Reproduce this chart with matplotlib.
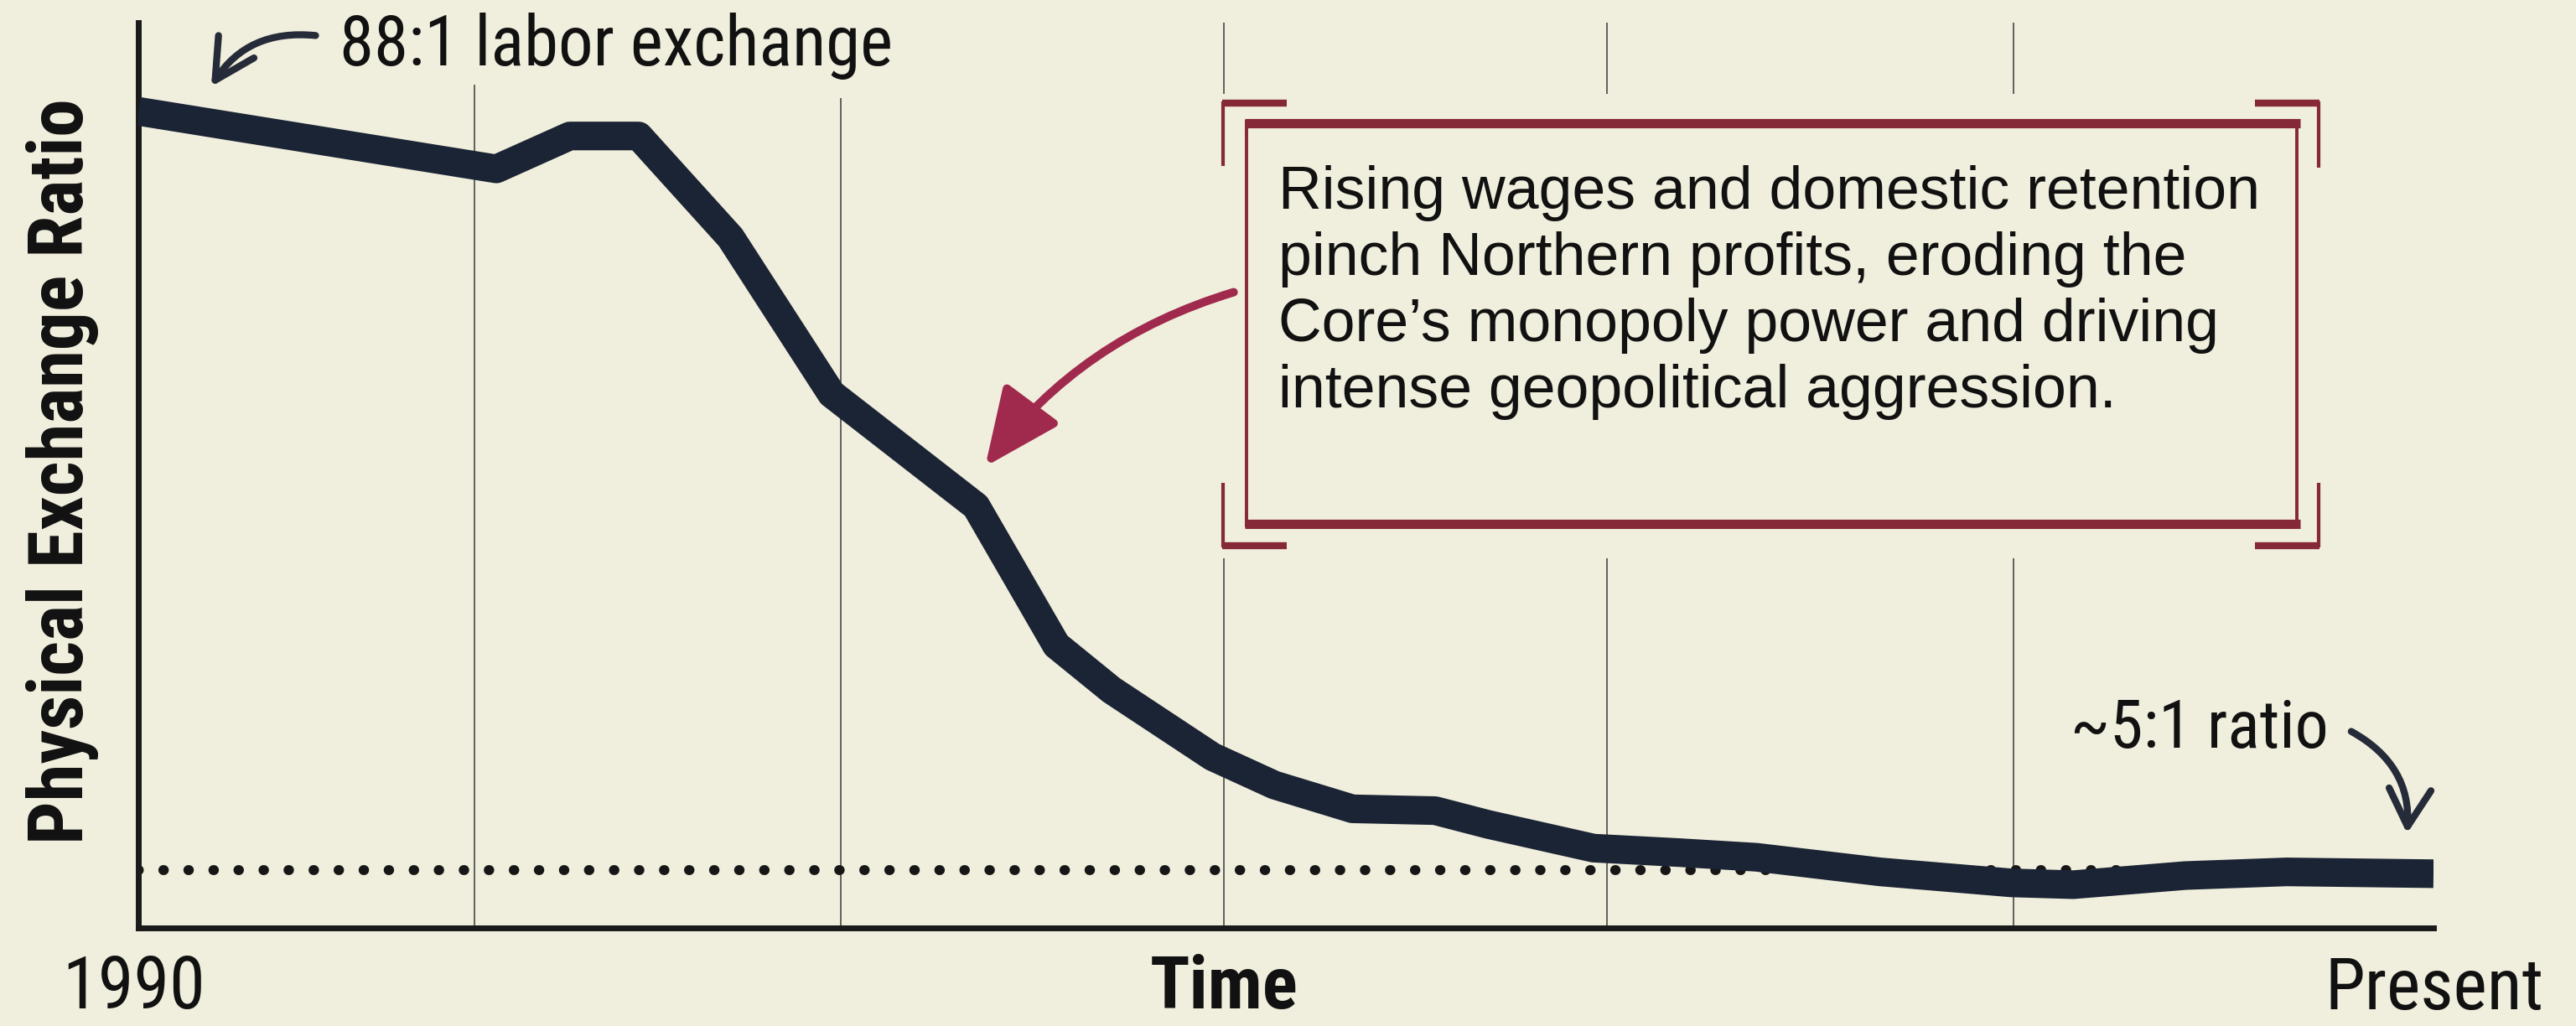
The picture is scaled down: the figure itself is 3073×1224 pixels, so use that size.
import os
import matplotlib
matplotlib.use('Agg')
import matplotlib.pyplot as plt
from matplotlib.patches import FancyArrowPatch, Rectangle
from matplotlib.lines import Line2D
from matplotlib import font_manager
from matplotlib.font_manager import FontProperties

# ---------------- data ----------------
time_idx = [0, 15.6, 18.8, 21.8, 25.8, 30.2, 36.5, 40.0, 42.4, 46.8, 49.5, 52.9,
            56.5, 58.8, 63.4, 67.2, 70.5, 75.9, 81.6, 84.3, 89.2, 93.6, 100]
exchange_ratio = [88, 81.7, 85.3, 85.3, 74.2, 57.1, 44.8, 29.6, 24.7, 17.4, 14.3, 11.7,
                  11.5, 10.0, 7.4, 6.9, 6.4, 4.8, 3.6, 3.4, 4.4, 4.8, 4.6]
reference_ratio = 5
grid_times = [14.65, 30.6, 47.3, 64.0, 81.7]
x_start_label = '1990'
x_mid_label = 'Time'
x_end_label = 'Present'
y_label = 'Physical Exchange Ratio'
note_top = '88:1 labor exchange'
note_end = '~5:1 ratio'
box_text = ('Rising wages and domestic retention\n'
            'pinch Northern profits, eroding the\n'
            'Core\u2019s monopoly power and driving\n'
            'intense geopolitical aggression.')

# ---------------- style ----------------
W, H, DPI = 3073, 1224, 200
BG = '#f0eedc'
NAVY = '#1b2435'
INK = '#111111'
RED_BOX = '#852838'
RED_ARROW = '#a02a4e'


def find_font_file(prefixes, bold):
    ents = font_manager.fontManager.ttflist
    for pre in prefixes:
        for e in ents:
            b = os.path.basename(e.fname).lower().replace('-', '').replace('_', '')
            if not b.startswith(pre):
                continue
            rest = b[len(pre):]
            if 'italic' in rest or 'oblique' in rest:
                continue
            if bold and rest.startswith('bold.'):
                return e.fname
            if not bold and (rest.startswith('regular.') or rest.startswith('.')):
                return e.fname
    return None


COND_PREFS = ['liberationsansnarrow', 'robotocondensed', 'opensanscondensed',
              'notosanscondensed', 'dejavusanscondensed']
cond_reg = find_font_file(COND_PREFS, False)
cond_bold = find_font_file(COND_PREFS, True)


def cond_fp(bold=False):
    path = cond_bold if bold else cond_reg
    if path:
        return FontProperties(fname=path)
    return FontProperties(family='Liberation Sans', weight='bold' if bold else 'normal')


def fx(x):
    return x / W


def fy(y):
    return 1 - y / H


fig = plt.figure(figsize=(W / DPI, H / DPI), dpi=DPI)
fig.patch.set_facecolor(BG)
renderer = fig.canvas.get_renderer()


def fit_text(x, y, s, target, fp, vertical=False, **kw):
    """Place text and scale its size so that its extent matches `target` pixels."""
    fp = fp.copy()
    fp.set_size(30)
    t = fig.text(fx(x), fy(y), s, fontproperties=fp, **kw)
    bb = t.get_window_extent(renderer)
    cur = bb.height if vertical else bb.width
    t.set_fontsize(30 * target / cur)
    return t


ax_left, ax_right, ax_top, ax_bottom = 165, 2903, 27, 1107
ax = fig.add_axes([fx(ax_left), fy(ax_bottom), (ax_right - ax_left) / W, (ax_bottom - ax_top) / H])
ax.set_facecolor('none')
ax.set_xlim(0, 100)
ax.set_ylim(-1.33, 97.7)
for s in ['top', 'right']:
    ax.spines[s].set_visible(False)
for s in ['left', 'bottom']:
    ax.spines[s].set_linewidth(2.5)
    ax.spines[s].set_color('#1a1a1a')
ax.set_xticks([])
ax.set_yticks([])

# gridlines (hand drawn: the first two stop short of the top)
grid_tops = [0.931, 0.916, 1.0, 1.0, 1.0]
for gt, top in zip(grid_times, grid_tops):
    ax.axvline(gt, ymin=0, ymax=top, color='#3c3c3c', lw=0.7, alpha=0.8, zorder=1)

# dotted reference line
ax.axhline(reference_ratio, color='#161616', lw=4.3, linestyle=(0, (0.05, 2.45)),
           dash_capstyle='round', zorder=2)

# main line
ax.plot(time_idx, exchange_ratio, color=NAVY, lw=12.3, solid_joinstyle='round',
        solid_capstyle='butt', zorder=3)

# ---------------- annotation box ----------------
fig.add_artist(Rectangle((fx(1448), fy(666)), (2778 - 1448) / W, (666 - 112) / H,
                         transform=fig.transFigure, facecolor=BG, edgecolor='none', zorder=1))


def seg(x0, y0, x1, y1, lw, color=RED_BOX):
    fig.add_artist(Line2D([fx(x0), fx(x1)], [fy(y0), fy(y1)], transform=fig.transFigure,
                          color=color, lw=lw, solid_capstyle='butt', zorder=2))


# inner rectangle
seg(1485, 147, 2744, 147, 4.0)
seg(1485, 625, 2744, 625, 4.0)
seg(1487, 143, 1487, 629, 1.4)
seg(2740, 143, 2740, 629, 1.4)
# corner brackets
seg(1458, 123, 1535, 123, 3.0)
seg(1459, 121, 1459, 198, 1.5)
seg(1458, 651, 1535, 651, 3.0)
seg(1459, 576, 1459, 653, 1.5)
seg(2690, 123, 2767, 123, 3.0)
seg(2766, 121, 2766, 200, 1.5)
seg(2690, 651, 2767, 651, 3.0)
seg(2766, 576, 2766, 653, 1.5)

fig.text(fx(1525), fy(197), box_text, ha='left', va='top', fontsize=25.8, family='Liberation Sans',
         color=INK, linespacing=1.23, zorder=3)

# red arrow
fig.add_artist(FancyArrowPatch((fx(1477), fy(347)), (fx(1172), fy(561)),
                               transform=fig.transFigure,
                               connectionstyle='arc3,rad=0.17',
                               arrowstyle='-|>,head_length=2.8,head_width=1.25',
                               mutation_scale=10, color=RED_ARROW, lw=3.6, zorder=3))

# ---------------- other annotations ----------------
fit_text(405, 78, note_top, 660, cond_fp(), ha='left', va='baseline', color=INK)
fig.add_artist(FancyArrowPatch((fx(382), fy(43)), (fx(249), fy(108)),
                               transform=fig.transFigure,
                               connectionstyle='arc3,rad=0.33',
                               arrowstyle='->,head_length=1.7,head_width=0.9',
                               mutation_scale=10, color='#252b38', lw=3.0, zorder=3))

fit_text(2470, 892, note_end, 308, cond_fp(), ha='left', va='baseline', color=INK)
fig.add_artist(FancyArrowPatch((fx(2800), fy(870)), (fx(2871), fy(1000)),
                               transform=fig.transFigure,
                               connectionstyle='arc3,rad=-0.34',
                               arrowstyle='->,head_length=1.6,head_width=0.9',
                               mutation_scale=10, color='#252b38', lw=3.0, zorder=3))

# axis labels
fit_text(74, 1221, x_start_label, 171, cond_fp(), ha='left', va='bottom', color=INK)
fit_text(1460, 1221, x_mid_label, 177, cond_fp(True), ha='center', va='bottom', color=INK)
fit_text(3034, 1221, x_end_label, 261, cond_fp(), ha='right', va='bottom', color=INK)
fit_text(31, 562, y_label, 890, cond_fp(True), vertical=True, rotation=90,
         ha='left', va='center', color=INK)

fig.savefig('out.png', dpi=DPI, facecolor=BG)
